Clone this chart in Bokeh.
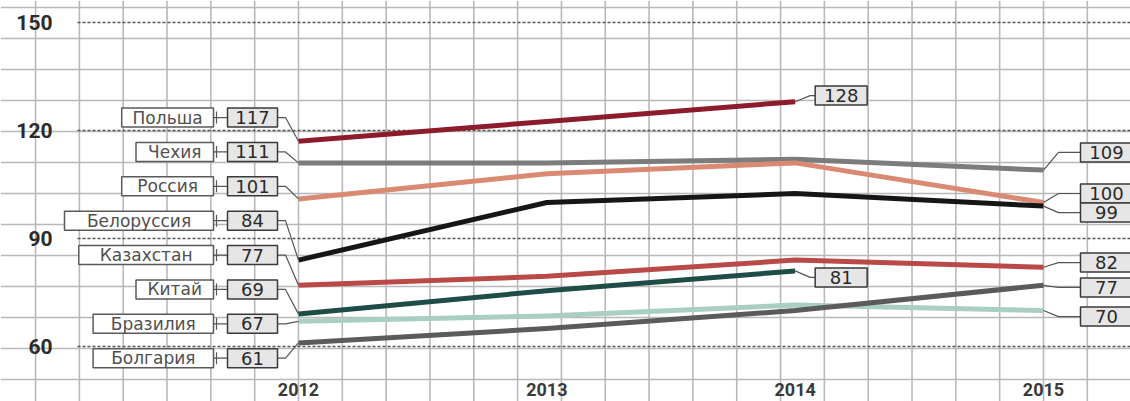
from bokeh.plotting import figure
from bokeh.models import Range1d
from bokeh.core.properties import value
from bokeh.embed import file_html
from bokeh.resources import INLINE

# ---------------- data ----------------
years = [2012, 2013, 2014, 2015]
countries = ["Польша", "Чехия", "Россия", "Белоруссия", "Казахстан", "Китай", "Бразилия", "Болгария"]
poland = [117, 122.5, 128, None]
czech = [111, 111, 112, 109]
russia = [101, 108, 111, 100]
belarus = [84, 100, 102.5, 99]
kazakhstan = [77, 79.5, 84, 82]
china = [69, 75.5, 81, None]
brazil = [67, 68.5, 71.5, 70]
bulgaria = [61, 65, 70, 77]
y_ticks = [60, 90, 120, 150]
x_ticks = [2012, 2013, 2014, 2015]

series = [poland, czech, russia, belarus, kazakhstan, china, brazil, bulgaria]

# ---------------- styles / layout ----------------
colors = ["#8c1b2b", "#7c7c7c", "#da8a72", "#161616", "#b94a47", "#1e4d48", "#a9cec4", "#5b5b5b"]
end_label_offset = [1.7, 4.9, 2.5, -1.8, 1.3, -1.8, -1.7, -0.6]  # value units, label placement

PX_PER_YEAR = 248.33
PX_PER_UNIT = 3.6
W, H = 1130, 401


def dx(px):
    return px / PX_PER_YEAR


def dy(px):
    return px / PX_PER_UNIT


X0 = 2012 - dx(298)
X1 = 2012 + dx(W - 298)
Y1 = 150 + dy(22)
Y0 = 150 - dy(H - 22)

p = figure(width=W, height=H, output_backend="svg", toolbar_location=None,
           x_range=Range1d(X0, X1), y_range=Range1d(Y0, Y1), min_border=0)
p.xaxis.visible = False
p.yaxis.visible = False
p.xgrid.visible = False
p.ygrid.visible = False
p.outline_line_color = None
p.background_fill_color = "white"
p.border_fill_color = "white"

# paper grid
vx = [2012 + k * 3 / 17 for k in range(-7, 21)]
p.segment(x0=vx, x1=vx, y0=[Y0] * len(vx), y1=[Y1] * len(vx), line_color="#b9b9b9", line_width=1.6)
hy = [150 + dy(15) - k * dy(31) for k in range(0, 14)]
p.segment(x0=[X0] * len(hy), x1=[X1] * len(hy), y0=hy, y1=hy, line_color="#b9b9b9", line_width=1.6)

# dotted value lines
p.segment(x0=[2012 - dx(221)] * len(y_ticks), x1=[X1] * len(y_ticks), y0=y_ticks, y1=y_ticks,
          line_color="#555555", line_width=1.5, line_dash="3 2")

# y tick labels
p.text(x=[2012 - dx(246)] * len(y_ticks), y=y_ticks, text=[str(t) for t in y_ticks],
       text_align="right", text_baseline="middle", text_font=value("Roboto"),
       text_font_style="bold", text_font_size=value("21px"), text_color="#2b2b2b")

# x tick labels
p.text(x=x_ticks, y=[150 - dy(389 - 22)] * len(x_ticks), text=[str(t) for t in x_ticks],
       text_align="center", text_baseline="middle", text_font=value("Roboto"),
       text_font_style="bold", text_font_size=value("18px"), text_color="#3a3a3a")

# series lines
for vals, c in zip(series, colors):
    xs = [yr for yr, v in zip(years, vals) if v is not None]
    ys = [v for v in vals if v is not None]
    p.line(xs, ys, line_color=c, line_width=5, line_join="round")

# ---- left labels ----
n = len(countries)
label_y = [123.6 - 9.55 * i for i in range(n)]
start_vals = [s[0] for s in series]

lead_x = [[2012 - dx(21), 2012 - dx(13), 2012] for _ in range(n)]
lead_y = [[ly, ly, v] for ly, v in zip(label_y, start_vals)]
p.multi_line(lead_x, lead_y, line_color="#555555", line_width=1.2)
p.segment(x0=[2012 - dx(85)] * n, x1=[2012 - dx(71)] * n, y0=label_y, y1=label_y,
          line_color="#555555", line_width=1.2)
p.segment(x0=[2012 - dx(82)] * n, x1=[2012 - dx(82)] * n,
          y0=[ly - dy(6) for ly in label_y], y1=[ly + dy(6) for ly in label_y],
          line_color="#555555", line_width=1.2)

name_w = [14.3 * len(c) + 6 for c in countries]
name_x = [2012 - dx(85) - dx(w / 2) for w in name_w]
p.rect(x=name_x, y=label_y, width=name_w, height=19, width_units="screen", height_units="screen",
       fill_color="white", line_color="#5a5a5a", line_width=1.5)
p.text(x=name_x, y=label_y, text=countries, text_align="center", text_baseline="middle",
       text_font=value("DejaVu Sans"), text_font_size=value("17px"), text_color="#505050")

p.rect(x=[2012 - dx(46)] * n, y=label_y, width=50, height=19, width_units="screen", height_units="screen",
       fill_color="#e6e6e6", line_color="#3a3a3a", line_width=1.5)
p.text(x=[2012 - dx(46)] * n, y=label_y, text=[str(round(v)) for v in start_vals],
       text_align="center", text_baseline="middle", text_font=value("DejaVu Sans"),
       text_font_size=value("18px"), text_color="#2a2a2a")

# ---- right labels ----
rx, ry, rt, lx, lyy = [], [], [], [], []
for vals, off in zip(series, end_label_offset):
    idx = max(i for i, v in enumerate(vals) if v is not None)
    ye, ve = years[idx], vals[idx]
    gap = 20 if ye == 2014 else 37
    by = ve + off
    rx.append(ye + dx(gap + 26))
    ry.append(by)
    rt.append(str(round(ve)))
    lx.append([ye, ye + dx(15), ye + dx(gap)])
    lyy.append([ve, by, by])

p.multi_line(lx, lyy, line_color="#555555", line_width=1.2)
p.rect(x=rx, y=ry, width=52, height=19, width_units="screen", height_units="screen",
       fill_color="#e6e6e6", line_color="#3a3a3a", line_width=1.5)
p.text(x=rx, y=ry, text=rt, text_align="center", text_baseline="middle",
       text_font=value("DejaVu Sans"), text_font_size=value("18px"), text_color="#2a2a2a")

open("out.html", "w").write(file_html(p, INLINE))
